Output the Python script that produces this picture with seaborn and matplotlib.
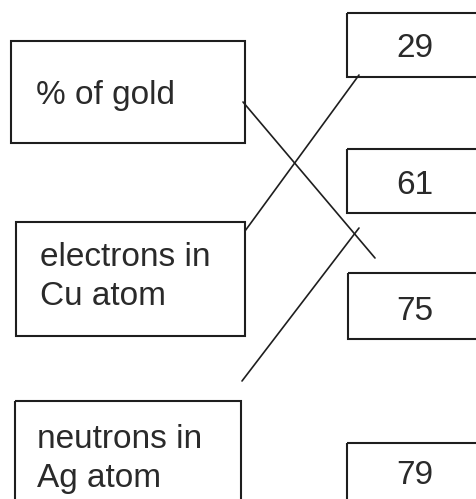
import pandas as pd
import seaborn as sns
import matplotlib.pyplot as plt
from matplotlib.patches import Rectangle

# Labels of the matching exercise
left_labels = ['% of gold', 'electrons in\nCu atom', 'neutrons in\nAg atom']
right_labels = ['29', '61', '75', '79']

# Box layout in pixels (x0, y0, x1, y1)
left_boxes = [(11, 41, 245, 143), (16, 222, 245, 336), (15, 401, 241, 520)]
right_boxes = [(347, 13, 490, 77), (347, 149, 490, 213), (348, 273, 490, 339), (347, 443, 490, 520)]
left_text_pos = [(36, 95), (40, 277), (37, 459)]
right_text_pos = [(415, 48), (415, 185), (415, 311), (415, 475)]

# Hand-drawn connector lines (start, end) in pixels
connectors = [((243, 102), (375, 258)),
              ((245, 231), (359, 75)),
              ((242, 381), (359, 228))]

sns.set_theme(style='white')
plt.rcParams['font.family'] = ['Liberation Sans', 'DejaVu Sans']

fig = plt.figure(figsize=(4.76, 4.99), dpi=100)
ax = fig.add_axes([0, 0, 1, 1])

ink = '#1e1e1e'

for (x0, y0, x1, y1) in left_boxes + right_boxes:
    ax.add_patch(Rectangle((x0, y0), x1 - x0, y1 - y0, fill=False,
                           edgecolor=ink, linewidth=1.5))

for label, (x, y) in zip(left_labels, left_text_pos):
    ax.text(x, y, label, ha='left', va='center', fontsize=24,
            color='#2a2a2a', linespacing=1.3)

for label, (x, y) in zip(right_labels, right_text_pos):
    ax.text(x, y, label, ha='center', va='center', fontsize=24,
            color='#2a2a2a')

rows = []
for i, (p, q) in enumerate(connectors):
    rows.append({'seg': i, 'x': p[0], 'y': p[1]})
    rows.append({'seg': i, 'x': q[0], 'y': q[1]})
seg_df = pd.DataFrame(rows)
sns.lineplot(data=seg_df, x='x', y='y', units='seg', estimator=None,
             sort=False, color=ink, linewidth=1.2, ax=ax)
ax.set_xlim(0, 476)
ax.set_ylim(499, 0)
ax.axis('off')

fig.savefig('out.png', dpi=100)
